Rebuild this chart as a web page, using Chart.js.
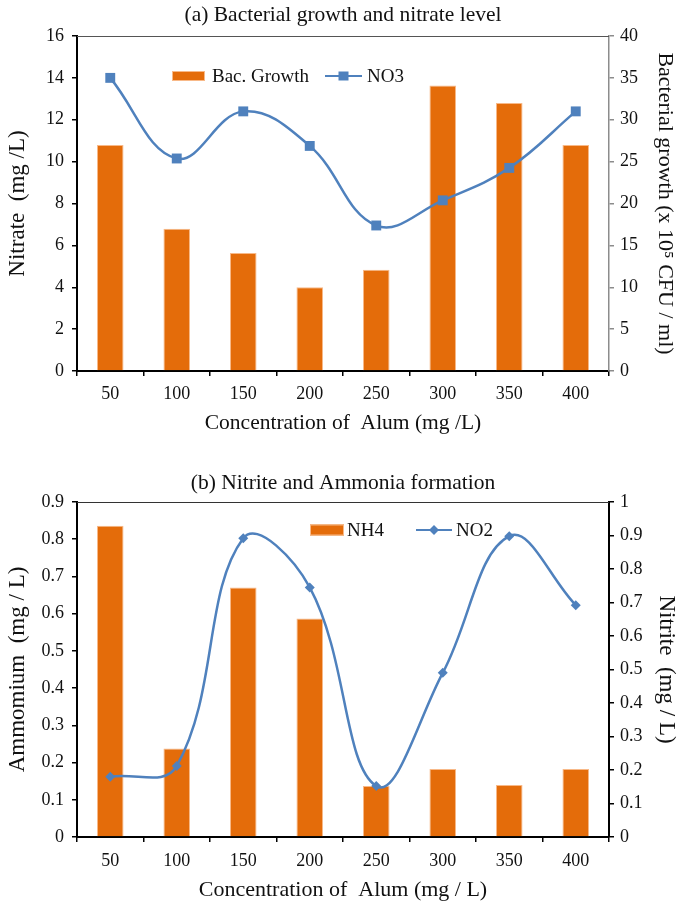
<!DOCTYPE html>
<html>
<head>
<meta charset="utf-8">
<script src="https://cdn.jsdelivr.net/npm/chart.js@4.4.0/dist/chart.umd.min.js"></script>
<style>
html,body{margin:0;padding:0;background:#fff;}
#wrapA{position:absolute;left:0;top:0;width:678px;height:450px;}
#wrapB{position:absolute;left:0;top:450px;width:678px;height:455px;}
</style>
</head>
<body>
<div id="wrapA"><canvas id="chartA"></canvas></div>
<div id="wrapB"><canvas id="chartB"></canvas></div>
<script>
// ---- data ----
const categories = ['50', '100', '150', '200', '250', '300', '350', '400'];
const bacGrowth = [27, 17, 14.1, 10, 12.1, 34.1, 32, 27];          // x 10^5 CFU / ml (right axis, chart a)
const no3 = [14.0, 10.15, 12.4, 10.75, 6.95, 8.15, 9.7, 12.4];       // mg/L (left axis, chart a)
const nh4 = [0.836, 0.238, 0.67, 0.587, 0.137, 0.183, 0.14, 0.183]; // mg/L (left axis, chart b)
const no2 = [0.18, 0.212, 0.892, 0.745, 0.152, 0.49, 0.898, 0.692];  // mg/L (right axis, chart b)

const FONT = 'Liberation Serif';
const TXT = '#111';
const ORANGE = '#E46C0A';
const ORANGE_EDGE = '#F8B988';
const BLUE = '#4F81BD';

function fmt1(v){ return String(Math.round(v * 10) / 10); }

const frameLine = {
  id: 'frameLine',
  afterDraw(chart, args, opts) {
    const {ctx, chartArea} = chart;
    ctx.save();
    ctx.strokeStyle = opts.color || '#555';
    ctx.lineWidth = 1;
    ctx.beginPath();
    ctx.moveTo(chartArea.left, chartArea.top + 0.5);
    ctx.lineTo(chartArea.right, chartArea.top + 0.5);
    ctx.stroke();
    ctx.restore();
  }
};

const boxLegend = {
  id: 'boxLegend',
  afterDraw(chart, args, opts) {
    const ctx = chart.ctx;
    ctx.save();
    ctx.font = opts.fontSize + 'px "' + FONT + '"';
    ctx.textBaseline = 'middle';
    ctx.textAlign = 'left';
    const y = opts.y;
    for (const it of opts.items) {
      if (it.type === 'bar') {
        ctx.fillStyle = ORANGE;
        ctx.fillRect(it.x, y - it.h / 2, it.w, it.h);
        ctx.strokeStyle = ORANGE_EDGE;
        ctx.lineWidth = 1;
        ctx.strokeRect(it.x + 0.5, y - it.h / 2 + 0.5, it.w - 1, it.h - 1);
      } else {
        ctx.strokeStyle = BLUE;
        ctx.lineWidth = 2.2;
        ctx.beginPath();
        ctx.moveTo(it.x, y);
        ctx.lineTo(it.x + it.w, y);
        ctx.stroke();
        ctx.fillStyle = BLUE;
        const cx = it.x + it.w / 2;
        if (it.marker === 'rect') {
          ctx.fillRect(cx - 5, y - 4.5, 10, 9);
        } else {
          ctx.beginPath();
          ctx.moveTo(cx, y - 5); ctx.lineTo(cx + 5, y); ctx.lineTo(cx, y + 5); ctx.lineTo(cx - 5, y);
          ctx.closePath(); ctx.fill();
        }
      }
      ctx.fillStyle = TXT;
      ctx.fillText(it.label, it.tx, y + 1);
    }
    ctx.restore();
  }
};

function xScale(title, h, tickPad, titleSize, titlePadBottom) {
  return {
    type: 'category',
    offset: true,
    grid: {offset: true, drawOnChartArea: false, drawTicks: true, tickLength: 5, color: '#000', lineWidth: 1.5},
    border: {color: '#000', width: 2},
    ticks: {font: {family: FONT, size: 18}, color: TXT, padding: tickPad, maxRotation: 0, autoSkip: false},
    title: {display: true, text: title, font: {family: FONT, size: titleSize}, color: TXT, padding: {top: 0, bottom: titlePadBottom}},
    afterFit(s) { s.height = h; }
  };
}

function yScale(pos, min, max, step, title, w, titleSize, titlePad, lineColor, borderW) {
  return {
    type: 'linear',
    position: pos,
    min: min, max: max,
    grid: {drawOnChartArea: false, drawTicks: true, tickLength: 5, color: lineColor, lineWidth: 1.5},
    border: {color: lineColor, width: borderW},
    ticks: {stepSize: step, font: {family: FONT, size: 18}, color: TXT, padding: pos === 'left' ? 8 : 6,
            callback: (v) => fmt1(v)},
    title: {display: true, text: title, font: {family: FONT, size: titleSize, lineHeight: 1}, color: TXT, padding: {top: titlePad, bottom: 0}},
    afterFit(s) { s.width = w; }
  };
}

// ---- chart (a) ----
new Chart(document.getElementById('chartA'), {
  type: 'bar',
  data: {
    labels: categories,
    datasets: [
      {type: 'line', label: 'NO3', data: no3, yAxisID: 'y', order: 1,
       borderColor: BLUE, backgroundColor: BLUE, borderWidth: 2.5, tension: 0.4,
       pointStyle: 'rect', pointRadius: 7, pointBackgroundColor: BLUE, pointBorderColor: BLUE, pointBorderWidth: 0},
      {type: 'bar', label: 'Bac. Growth', data: bacGrowth, yAxisID: 'y1', order: 2,
       backgroundColor: ORANGE, borderColor: ORANGE_EDGE, borderWidth: 1,
       barPercentage: 0.4, categoryPercentage: 1.0}
    ]
  },
  options: {
    responsive: true, maintainAspectRatio: false, animation: false,
    layout: {padding: 0},
    plugins: {
      legend: {display: false},
      tooltip: {enabled: false},
      title: {display: true, text: '(a) Bacterial growth and nitrate level', fullSize: false,
              font: {family: FONT, size: 21.5, weight: 'normal'}, color: TXT, padding: {top: 2.1, bottom: 8.1}},
      frameLine: {color: '#555'},
      boxLegend: {y: 76, fontSize: 19, items: [
        {type: 'bar', x: 172, w: 33, h: 10, label: 'Bac. Growth', tx: 212},
        {type: 'line', marker: 'rect', x: 325, w: 37, label: 'NO3', tx: 367}
      ]}
    },
    scales: {
      x: xScale('Concentration of  Alum (mg /L)', 79, 7, 21.5, 14),
      y: yScale('left', 0, 16, 2, 'Nitrate  (mg /L)', 77, 23, 6.5, '#000', 2),
      y1: yScale('right', 0, 40, 5, 'Bacterial growth (x 10\u2075 CFU / ml)', 69, 22, 2, '#8c8c8c', 1.5)
    }
  },
  plugins: [frameLine, boxLegend]
});

// ---- chart (b) ----
new Chart(document.getElementById('chartB'), {
  type: 'bar',
  data: {
    labels: categories,
    datasets: [
      {type: 'line', label: 'NO2', data: no2, yAxisID: 'y1', order: 1,
       borderColor: BLUE, backgroundColor: BLUE, borderWidth: 2.5, tension: 0.4,
       pointStyle: 'rectRot', pointRadius: 5, pointBackgroundColor: BLUE, pointBorderColor: BLUE, pointBorderWidth: 0},
      {type: 'bar', label: 'NH4', data: nh4, yAxisID: 'y', order: 2,
       backgroundColor: ORANGE, borderColor: ORANGE_EDGE, borderWidth: 1,
       barPercentage: 0.4, categoryPercentage: 1.0}
    ]
  },
  options: {
    responsive: true, maintainAspectRatio: false, animation: false,
    layout: {padding: 0},
    plugins: {
      legend: {display: false},
      tooltip: {enabled: false},
      title: {display: true, text: '(b) Nitrite and Ammonia formation', fullSize: false,
              font: {family: FONT, size: 21.5, weight: 'normal'}, color: TXT, padding: {top: 20.1, bottom: 6.1}},
      frameLine: {color: '#333'},
      boxLegend: {y: 80, fontSize: 19, items: [
        {type: 'bar', x: 310, w: 34, h: 11, label: 'NH4', tx: 347},
        {type: 'line', marker: 'diamond', x: 416, w: 36, label: 'NO2', tx: 456}
      ]}
    },
    scales: {
      x: xScale('Concentration of  Alum (mg / L)', 68, 8, 22, 1.8),
      y: yScale('left', 0, 0.9, 0.1, 'Ammomium  (mg / L)', 77, 23, 6.5, '#000', 2),
      y1: yScale('right', 0, 1, 0.1, 'Nitrite  (mg / L)', 69, 23, 0, '#000', 2)
    }
  },
  plugins: [frameLine, boxLegend]
});
</script>
</body>
</html>
